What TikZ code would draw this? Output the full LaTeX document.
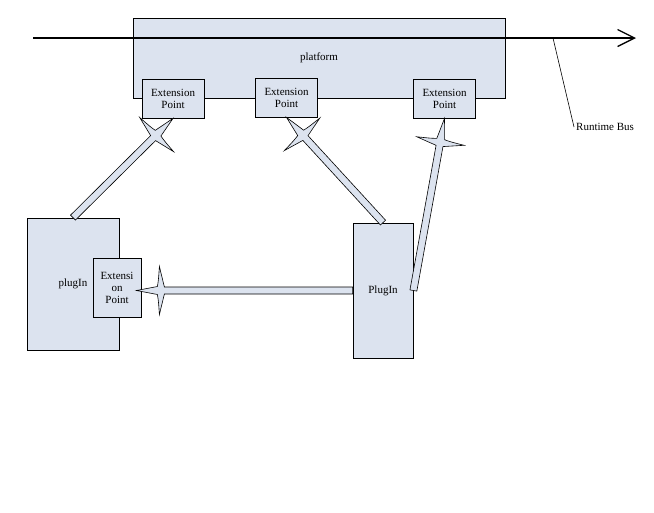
\documentclass[tikz,border=0pt]{standalone}
\usepackage{fontspec}
\setmainfont{Liberation Serif}
\usetikzlibrary{arrows.meta}
\usetikzlibrary{calc}
\definecolor{pbox}{RGB}{220,227,239}
\tikzset{box/.style = {draw, fill=pbox, line width=0.8pt, inner sep=0, align=center, font=\fontsize{11}{12}\selectfont}}
\tikzset{fatarr/.style = {draw, fill=pbox, line width=0.6pt, line join=miter}}
\tikzset{bus/.style = {line width=1.3pt, -{Straight Barb[length=17pt, width=17pt]}}}
% thin shaft with a star shaped head, from #1 to #2
\newcommand{\fatarrow}[2]{%
  \draw [fatarr] ($(#1)!3.5pt!-90:(#2)$) -- ($(#2)!28pt!(#1)!3.5pt!90:(#1)$)
    -- ($(#2)!23pt!(#1)!24pt!90:(#1)$)
    .. controls ($(#2)!22pt!(#1)!10pt!90:(#1)$) .. ($(#2)!21pt!(#1)!4pt!90:(#1)$) -- (#2)
    -- ($(#2)!21pt!(#1)!4pt!-90:(#1)$)
    .. controls ($(#2)!22pt!(#1)!10pt!-90:(#1)$) .. ($(#2)!23pt!(#1)!24pt!-90:(#1)$)
    -- ($(#2)!28pt!(#1)!3.5pt!-90:(#1)$) -- ($(#1)!3.5pt!90:(#2)$) -- cycle;
}

\begin{document}
\begin{tikzpicture}[x=1pt, y=-1pt]
      \useasboundingbox (0, 0) rectangle (654, 512);

      \node [box, minimum width=372, minimum height=80] (platform) at (319, 58) {platform};
      \foreach \n/\x/\y in {1/173/98.5, 2/286.5/97.5, 3/444.5/98.5} {
        \node [box, minimum width=62, minimum height=39] (ep\n) at (\x, \y) {Extension\\Point};
      }

      \coordinate (busstart) at (33, 38);
      \coordinate (busend) at (636, 38);
      \coordinate (busjoint) at (553, 38);
      \draw [bus] (busstart) -- (busend);
      \node [anchor=west, inner sep=2, font=\fontsize{11}{12}\selectfont] (rtbus) at (574, 127) {Runtime Bus};
      \draw [line width=0.6pt] (busjoint) -- (rtbus.west);

      \node [box, minimum width=92, minimum height=132] (plugA) at (73, 284) {plugIn};
      \node [box, minimum width=48, minimum height=59] (epC) at (117, 287.5) {Extensi\\on\\Point};
      \node [box, minimum width=60, minimum height=135] (plugB) at (383, 290.5) {PlugIn};

      \coordinate (hit) at ([xshift=-5]plugB.west -| epC.east);
      \fatarrow{plugA.north}{ep1.south}
      \fatarrow{plugB.north}{ep2.south}
      \fatarrow{plugB.east}{ep3.south}
      \fatarrow{plugB.west}{hit}
\end{tikzpicture}
\end{document}
